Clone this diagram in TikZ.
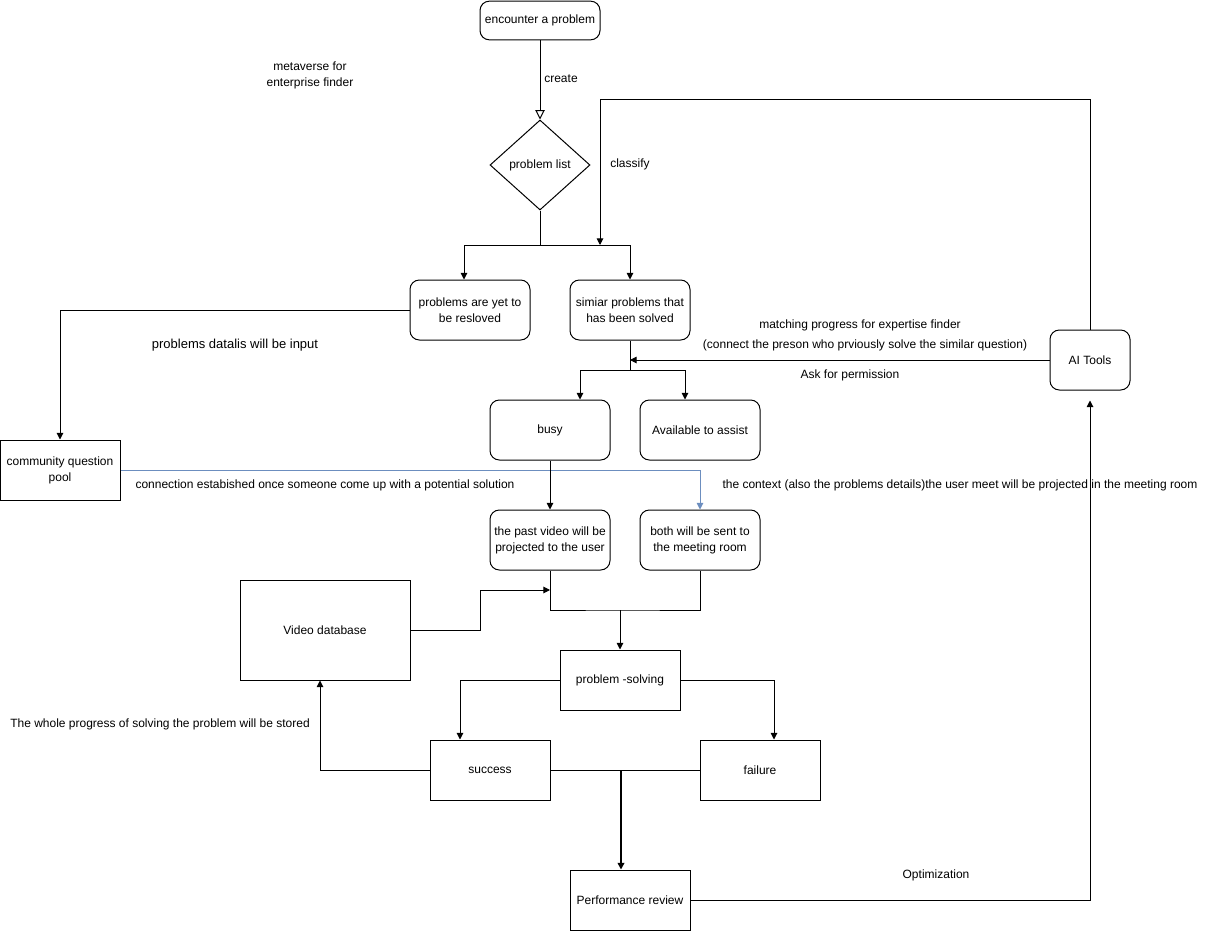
\documentclass[tikz,border=0pt]{standalone}
\usepackage{fontspec}
\setmainfont{Liberation Sans}
\usetikzlibrary{arrows.meta,calc,shapes.geometric}
\definecolor{linkblue}{HTML}{6C8EBF}
\begin{document}
\begin{tikzpicture}[x=0.75pt,y=-0.75pt,
  every node/.style={font=\fontsize{9}{12}\selectfont,align=center,inner sep=0pt},
  rbox/.style={draw,rounded corners=7pt,minimum width=90pt,minimum height=45pt,line width=0.75pt},
  sbox/.style={draw,minimum width=90pt,minimum height=45pt,line width=0.75pt},
  ln/.style={line width=0.75pt},
  arr/.style={ln,-{Triangle[length=5pt,width=5pt]}},
  lbl/.style={}]
\useasboundingbox (0,0) rectangle (1211,931);
\fill[white] (0,0) rectangle (1211,931);
% nodes
\node[rbox,minimum height=29pt] (enc) at (540,20.5) {encounter a problem};
\node[draw,diamond,aspect=1.11,minimum width=75pt,minimum height=67.5pt,line width=0.75pt] (list) at (540,165) {problem list};
\node[rbox] (yet) at (470,310) {problems are yet to\\be resloved};
\node[rbox] (sim) at (630,310) {simiar problems that\\has been solved};
\node[sbox] (pool) at (60,470) {community question\\pool};
\node[rbox,minimum width=60pt] (ai) at (1090,360) {AI Tools};
\node[rbox] (busy) at (550,430) {busy};
\node[rbox] (avail) at (700,430) {Available to assist};
\node[rbox] (past) at (550,540) {the past video will be\\projected to the user};
\node[rbox] (both) at (700,540) {both will be sent to\\the meeting room};
\node[sbox,minimum width=127.5pt,minimum height=75pt] (video) at (325,630) {Video database};
\node[sbox] (solve) at (620,680) {problem -solving};
\node[sbox] (succ) at (490,770) {success};
\node[sbox] (fail) at (760,770) {failure};
\node[sbox] (perf) at (630,900) {Performance review};
% labels
\node (t1) at (310,75) {metaverse for\\enterprise finder};
\node (t2) at (561,79) {create};
\node (t3) at (630,164) {classify};
\node[font=\fontsize{9.75}{12}\selectfont] (t4) at (235,345) {problems datalis will be input};
\node (t5) at (860,325) {matching progress for expertise finder};
\node (t6) at (865,345) {(connect the preson who prviously solve the similar question)};
\node (t7) at (850,375) {Ask for permission};
\node (t8) at (325,485) {connection estabished once someone come up with a potential solution};
\node (t9) at (960,485) {the context (also the problems details)the user meet will be projected in the meeting room};
\node (t10) at (160,724) {The whole progress of solving the problem will be stored};
\node (t11) at (936,875) {Optimization};
% coordinates
\coordinate (j1) at (540,245);
\coordinate (c1) at (600,245);
\coordinate (s1) at (630,370);
\coordinate (m1) at (550,590);
\coordinate (m2) at (620,610);
\coordinate (m3) at (621,770);
% connectors
\draw[ln,-{Triangle[open,length=7pt,width=7pt,fill=white]}] (enc.south) -- (list.north);
\draw[ln] (list.south) -- (j1);
\draw[arr] (j1) -| ($(yet.north)+(-6,0)$);
\draw[arr] (j1) -| (sim.north);
\draw[arr] (ai.north) |- (c1 |- 0,100) -- (c1);
\draw[arr] (yet.west) -| (pool.north);
\draw[ln] (sim.south) -- (s1);
\draw[arr] (ai.west) -- (ai.west -| sim.south);
\draw[arr] (s1) -| ($(busy.north)+(30,0)$);
\draw[arr] (s1) -| ($(avail.north)+(-15,0)$);
\draw[ln,linkblue,-{Triangle[length=5pt,width=5pt]}] (pool.east) -| (both.north);
\draw[arr] (busy.south) -- (past.north);
\draw[ln] (past.south) |- (m2) -| (both.south);
\draw[arr] (video.east) -| ($(m1)+(-70,0)$) -- (m1);
\draw[arr] (m2) -- (solve.north);
\draw[arr] (solve.west) -| ($(succ.north)+(-30,0)$);
\draw[arr] (solve.east) -| ($(fail.north)+(14,0)$);
\draw[arr] (succ.west) -| ($(video.south)+(-5,0)$);
\draw[ln] (succ.east) -- (fail.west);
\draw[line width=1.2pt,-{Triangle[length=5pt,width=5pt]}] (m3) -- (m3 |- perf.north);
\draw[arr] (perf.east) -| ($(ai.south)+(0,10)$);
\end{tikzpicture}
\end{document}
